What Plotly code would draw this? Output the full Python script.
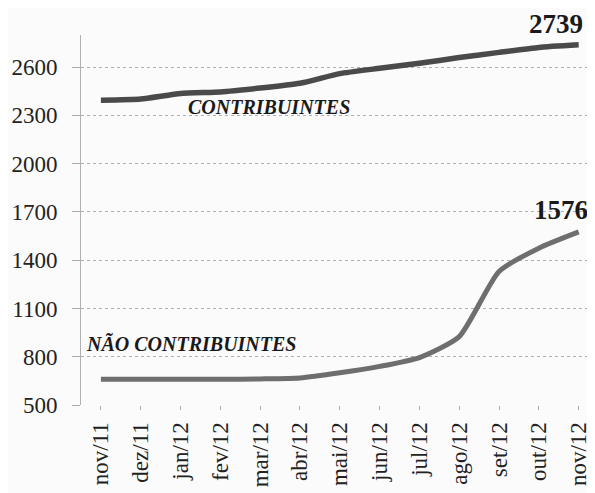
import plotly.graph_objects as go

months = ["nov/11", "dez/11", "jan/12", "fev/12", "mar/12", "abr/12", "mai/12",
          "jun/12", "jul/12", "ago/12", "set/12", "out/12", "nov/12"]
contribuintes = [2394, 2402, 2437, 2446, 2470, 2500, 2560, 2593, 2624, 2660, 2692, 2723, 2739]
nao_contribuintes = [660, 660, 660, 660, 662, 668, 700, 740, 795, 925, 1330, 1475, 1576]
y_ticks = [500, 800, 1100, 1400, 1700, 2000, 2300, 2600]

xi = list(range(len(months)))
font = "Liberation Serif, Times New Roman, serif"

fig = go.Figure()
fig.add_trace(go.Scatter(x=xi, y=contribuintes, mode="lines",
                         line=dict(color="#4a4a4a", width=5.5, shape="spline", smoothing=0.5),
                         hoverinfo="skip", showlegend=False))
fig.add_trace(go.Scatter(x=xi, y=nao_contribuintes, mode="lines",
                         line=dict(color="#6e6e6e", width=5, shape="spline", smoothing=0.6),
                         hoverinfo="skip", showlegend=False))

fig.add_annotation(x=12.16, xanchor="right", y=1.03, yref="paper", yanchor="middle",
                   text="<b>2739</b>", showarrow=False,
                   font=dict(family=font, size=27, color="#1a1a1a"))
fig.add_annotation(x=12.28, xanchor="right", y=1711, yanchor="middle", text="<b>1576</b>",
                   showarrow=False, font=dict(family=font, size=27, color="#1a1a1a"))
fig.add_annotation(x=4.22, y=2350, text="<b><i>CONTRIBUINTES</i></b>", showarrow=False,
                   font=dict(family=font, size=20, color="#1a1a1a"))
fig.add_annotation(x=2.26, y=880, text="<b><i>NÃO CONTRIBUINTES</i></b>", showarrow=False,
                   font=dict(family=font, size=20, color="#1a1a1a"))

fig.update_layout(
    width=587, height=485,
    margin=dict(l=73, r=0, t=27, b=88, autoexpand=False),
    paper_bgcolor="#fbfbfb", plot_bgcolor="#fbfbfb",
    font=dict(family=font, color="#222222"),
)
fig.update_xaxes(
    range=[-0.5, 12.41], tickmode="array", tickvals=xi, ticktext=months,
    tickangle=-90, tickson="boundaries", ticks="outside", ticklen=4,
    tickcolor="#aaaaaa", showgrid=False, showline=False, zeroline=False,
    automargin=False,
    tickfont=dict(family=font, size=23, color="#222222"), ticklabelstandoff=3,
)
fig.update_yaxes(
    range=[500, 2800], tickmode="array", tickvals=y_ticks,
    ticks="outside", ticklen=8, tickcolor="#aaaaaa",
    showgrid=True, gridcolor="#b0b0b0", griddash="dot", gridwidth=1,
    showline=True, linecolor="#b0b0b0", linewidth=1, zeroline=False,
    automargin=False,
    tickfont=dict(family=font, size=23, color="#222222"), ticklabelstandoff=10,
)

fig.write_html("out.html")
